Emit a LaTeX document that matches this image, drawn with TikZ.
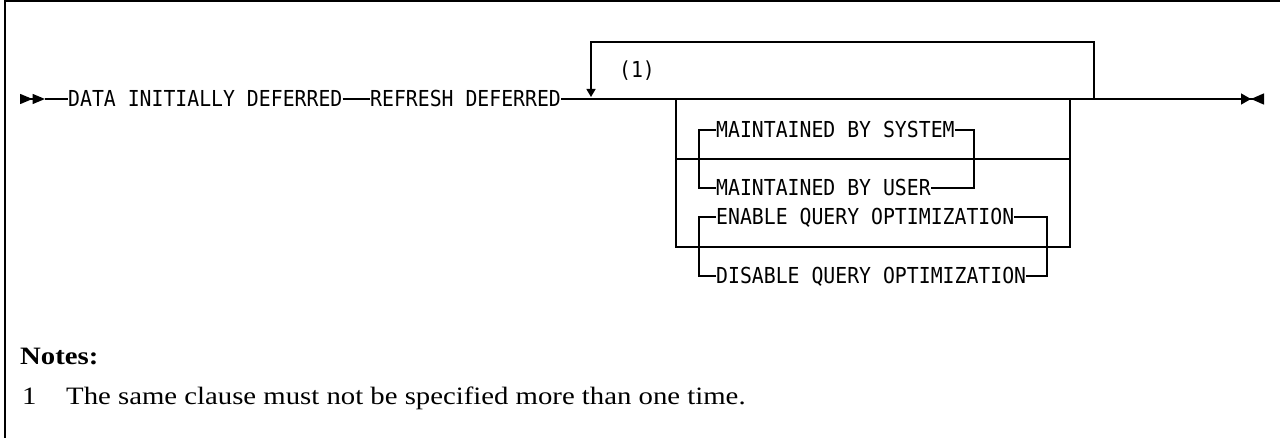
\documentclass[tikz,border=0pt]{standalone}
\usepackage{fontspec}
\setmainfont{Liberation Serif}[FakeStretch=1.15]
\newfontfamily\synfont{DejaVu Sans Mono}[FakeStretch=0.9]
\usetikzlibrary{arrows.meta}

\begin{document}
\begin{tikzpicture}[x=1pt,y=-1pt,
    kw/.style={font=\synfont\fontsize{22}{26}\selectfont, inner sep=0pt, anchor=west, text height=16pt, text depth=0pt},
    rail/.style={line width=1.4pt},
    note/.style={font=\fontsize{25}{30}\selectfont, inner sep=0pt, anchor=base west}]
    \useasboundingbox (0,0) rectangle (1280,438);
    % Draw frame
    \draw[line width=1.8pt] (5,438) -- (5,1) -- (1280,1);

    % Main line
    \coordinate (begin) at (20,99);
    \coordinate (lead) at (45,99);
    \node[kw] (data) at (68,99) {DATA INITIALLY DEFERRED};
    \node[kw] (refresh) at (370,99) {REFRESH DEFERRED};
    \coordinate (rep) at (591,99);
    \coordinate (back) at (1094,99);
    \coordinate (stop) at (1264,99);
    \draw[rail,-{Triangle[length=12.5pt,width=10pt,sep=0pt]Triangle[length=12.5pt,width=10pt,sep=0pt]}] (begin) -- (lead);
    \draw[rail] (lead) -- (data.west);
    \draw[rail] (data.east) -- (refresh.west);
    \draw[rail] (refresh.east) -- (back);
    \draw[rail,-{Triangle[length=10pt,width=11pt,sep=0pt]Triangle[reversed,length=13pt,width=11pt,sep=0pt]}] (back) -- (stop);
    \draw[line width=2.2pt] (1100,99) -- (1123,99);

    % Repeat loop
    \coordinate (loop) at (1094,42);
    \coordinate (reptip) at (591,97);
    \draw[rail,-{Triangle[length=8pt,width=9pt]}] (back) -- (loop) -| (reptip);
    \node[kw, anchor=center] (mark) at (637,70) {(1)};

    % Choice box
    \coordinate (boxnw) at (676,99);
    \coordinate (boxne) at (1070,99);
    \coordinate (boxw) at (676,159);
    \coordinate (boxe) at (1070,159);
    \coordinate (boxsw) at (676,247);
    \coordinate (boxse) at (1070,247);
    \draw[rail] (boxnw) -- (boxsw) -- (boxse) -- (boxne);
    \draw[rail] (boxw) -- (boxe);

    % Maintained by
    \node[kw] (sys) at (716,130) {MAINTAINED BY SYSTEM};
    \node[kw] (usr) at (716,188) {MAINTAINED BY USER};
    \coordinate (sysl) at (699,130);
    \coordinate (sysr) at (974,130);
    \draw[rail] (sys.west) -- (sysl) |- (usr.west);
    \draw[rail] (sys.east) -- (sysr) |- (usr.east);

    % Query optimization
    \node[kw] (enq) at (716,217) {ENABLE QUERY OPTIMIZATION};
    \node[kw] (disq) at (716,276) {DISABLE QUERY OPTIMIZATION};
    \coordinate (enql) at (699,217);
    \coordinate (enqr) at (1047,217);
    \draw[rail] (enq.west) -- (enql) |- (disq.west);
    \draw[rail] (enq.east) -- (enqr) |- (disq.east);

    % Notes
    \node[note, font=\bfseries\fontsize{25}{30}\selectfont] (notes) at (20,364) {Notes:};
    \node[note] (num) at (22,404) {1};
    \node[note] (txt) at (66,404) {The same clause must not be specified more than one time.};
\end{tikzpicture}
\end{document}
